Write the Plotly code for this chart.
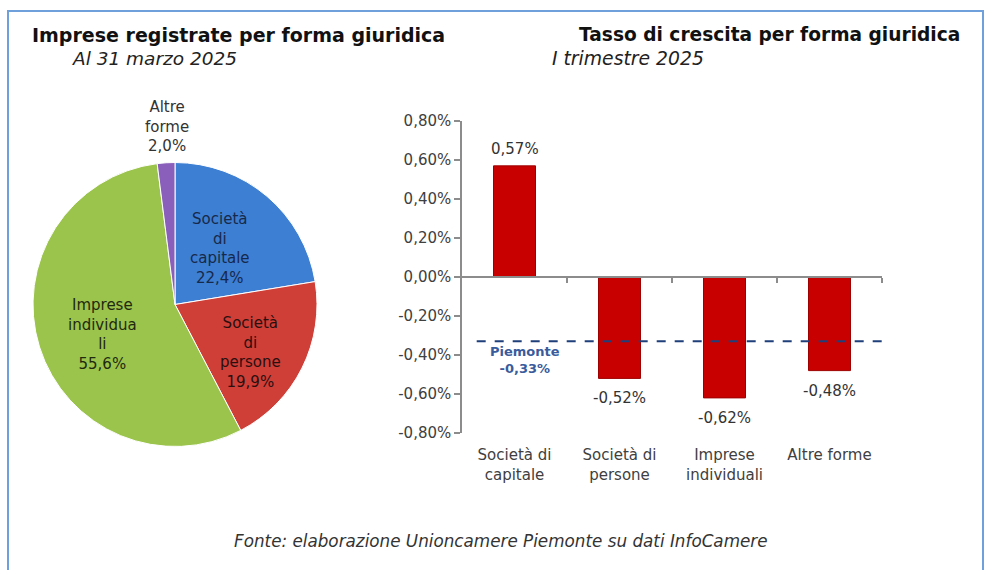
import plotly.graph_objects as go

# ---------------- data ----------------
pie_categories = ["Società di capitale", "Società di persone", "Imprese individuali", "Altre forme"]
pie_shares = [22.4, 19.9, 55.6, 2.0]
pie_label_lines = ["Società<br>di<br>capitale", "Società<br>di<br>persone", "Imprese<br>individua<br>li", "Altre<br>forme"]
pie_colors = ["#3D7FD3", "#CF3F38", "#9BC44C", "#8A5EBB"]

bar_categories = ["Società di capitale", "Società di persone", "Imprese individuali", "Altre forme"]
bar_tick_labels = ["Società di<br>capitale", "Società di<br>persone", "Imprese<br>individuali", "Altre forme"]
growth_rates = [0.57, -0.52, -0.62, -0.48]
piemonte_rate = -0.33

y_tick_values = [-0.8, -0.6, -0.4, -0.2, 0.0, 0.2, 0.4, 0.6, 0.8]
y_tick_labels = ["-0,80%", "-0,60%", "-0,40%", "-0,20%", "0,00%", "0,20%", "0,40%", "0,60%", "0,80%"]

FONT = "DejaVu Sans"
W, H = 986, 570


def px_x(px):
    return px / W


def px_y(py):
    return 1 - py / H


def fmt_pct(v, d):
    return f"{v:.{d}f}".replace(".", ",") + "%"


fig = go.Figure()

# ---------------- pie ----------------
fig.add_trace(go.Pie(
    labels=pie_categories,
    values=pie_shares,
    sort=False,
    direction="clockwise",
    rotation=0,
    marker=dict(colors=pie_colors, line=dict(color="#FFFFFF", width=1)),
    textinfo="none",
    hoverinfo="label+percent",
    domain=dict(x=[px_x(33), px_x(317)], y=[px_y(447), px_y(162)]),
    showlegend=False,
))

pie_label_pos = [(220, 248.5), (250, 352.5), (102, 334.5), (167, 126.5)]
pie_text_colors = ["#17294A", "#2A0F0F", "#1F2A10", "#333333"]
for lbl, share, (lx, ly), col in zip(pie_label_lines, pie_shares, pie_label_pos, pie_text_colors):
    fig.add_annotation(
        x=px_x(lx), y=px_y(ly), xref="paper", yref="paper",
        text=f"{lbl}<br>{fmt_pct(share, 1)}", showarrow=False,
        xanchor="center", yanchor="middle", align="center",
        font=dict(family=FONT, size=15, color=col),
    )

# ---------------- bars ----------------
xs = list(range(len(bar_categories)))
fig.add_trace(go.Bar(
    x=xs, y=growth_rates,
    width=0.4,
    marker=dict(color="#C80000", line=dict(color="#9E0000", width=1)),
    hovertext=bar_categories,
    xaxis="x", yaxis="y",
    showlegend=False,
))

for x, v in zip(xs, growth_rates):
    fig.add_annotation(
        x=x, y=v, xref="x", yref="y",
        text=fmt_pct(v, 2), showarrow=False,
        yanchor="bottom" if v >= 0 else "top",
        yshift=6 if v >= 0 else -9,
        font=dict(family=FONT, size=15, color="#333333"),
    )

# Piemonte dashed reference line (drawn on overlay axis x2 at y=0)
fig.add_trace(go.Scatter(
    x=[-0.36, 3.5], y=[piemonte_rate, piemonte_rate],
    mode="lines",
    line=dict(color="#1F3F7A", width=2, dash="dash"),
    xaxis="x2", yaxis="y",
    hoverinfo="skip", showlegend=False,
))
fig.add_annotation(
    x=0.1, y=piemonte_rate, xref="x", yref="y",
    text=f"<b>Piemonte<br>{fmt_pct(piemonte_rate, 2)}</b>", showarrow=False,
    xanchor="center", yanchor="top", yshift=-1,
    font=dict(family=FONT, size=13, color="#3A5B9C"),
)

dom_x = [px_x(462), px_x(882)]
dom_y = [px_y(433), px_y(121)]
zero_pos = (dom_y[0] + dom_y[1]) / 2

fig.update_layout(
    width=W, height=H, autosize=False,
    margin=dict(l=0, r=0, t=0, b=0, pad=0, autoexpand=False),
    paper_bgcolor="white", plot_bgcolor="white",
    showlegend=False,
    font=dict(family=FONT, color="#333333"),
    xaxis=dict(
        domain=dom_x, range=[-0.5, 3.5], anchor="y",
        tickvals=xs, ticktext=bar_tick_labels,
        showline=False, showgrid=False, zeroline=False, ticks="",
        tickfont=dict(family=FONT, size=15, color="#404040"),
        ticklabelstandoff=11, automargin=False,
    ),
    xaxis2=dict(
        overlaying="x", anchor="free", position=zero_pos,
        range=[-0.5, 3.5], side="bottom",
        tickvals=[0.5, 1.5, 2.5, 3.5], showticklabels=False,
        ticks="outside", ticklen=5, tickcolor="#8C8C8C", tickwidth=1.5,
        showline=True, linecolor="#8C8C8C", linewidth=1.5,
        showgrid=False, zeroline=False, automargin=False,
    ),
    yaxis=dict(
        domain=dom_y, range=[-0.8, 0.8], anchor="x",
        tickvals=y_tick_values, ticktext=y_tick_labels,
        showline=True, linecolor="#8C8C8C", linewidth=1.5,
        ticks="outside", ticklen=6, tickcolor="#8C8C8C", tickwidth=1.5,
        showgrid=False, zeroline=False, automargin=False,
        tickfont=dict(family=FONT, size=15, color="#404040"),
    ),
)

# ---------------- titles ----------------
fig.add_annotation(x=px_x(30), y=px_y(35), xref="paper", yref="paper",
                   text="<b>Imprese registrate per forma giuridica</b>", showarrow=False,
                   xanchor="left", yanchor="middle",
                   font=dict(family=FONT, size=19, color="#111111"))
fig.add_annotation(x=px_x(70), y=px_y(59), xref="paper", yref="paper",
                   text="<i>Al 31 marzo 2025</i>", showarrow=False,
                   xanchor="left", yanchor="middle",
                   font=dict(family=FONT, size=18.5, color="#222222"))
fig.add_annotation(x=px_x(962), y=px_y(35), xref="paper", yref="paper",
                   text="<b>Tasso di crescita per forma giuridica</b>", showarrow=False,
                   xanchor="right", yanchor="middle",
                   font=dict(family=FONT, size=18.6, color="#111111"))
fig.add_annotation(x=px_x(550), y=px_y(59), xref="paper", yref="paper",
                   text="<i>I trimestre 2025</i>", showarrow=False,
                   xanchor="left", yanchor="middle",
                   font=dict(family=FONT, size=18.8, color="#222222"))
fig.add_annotation(x=px_x(501), y=px_y(541), xref="paper", yref="paper",
                   text="<i>Fonte: elaborazione Unioncamere Piemonte su dati InfoCamere</i>",
                   showarrow=False, xanchor="center", yanchor="middle",
                   font=dict(family=FONT, size=16.8, color="#333333"))

# outer frame
fig.add_shape(type="rect", xref="paper", yref="paper",
              x0=px_x(8), x1=px_x(983), y0=-0.1, y1=px_y(11),
              line=dict(color="#6FA0DC", width=2), layer="below")

fig.write_html(
    "out.html",
    config={"displayModeBar": False},
    post_script="document.body.style.margin='0';document.body.style.overflow='hidden';",
)
